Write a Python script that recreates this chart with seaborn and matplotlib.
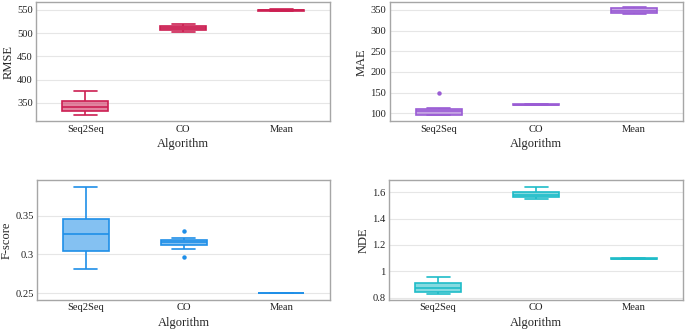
import pandas as pd
import numpy as np
import matplotlib
matplotlib.use("Agg")
import matplotlib.pyplot as plt
from matplotlib.colors import to_rgba
from matplotlib.ticker import FuncFormatter
import seaborn as sns

algorithms = ["Seq2Seq", "CO", "Mean"]

rmse_seq2seq = [323.6, 330.0, 333.0, 337.0, 340.7, 346.0, 353.6, 362.0, 375.0]
rmse_co = [503.0, 504.5, 506.4, 508.5, 511.0, 513.0, 515.7, 517.0, 519.0]
rmse_mean = [547.0, 547.5, 548.0, 548.5, 549.0, 549.5, 550.0, 550.5, 551.0]

mae_seq2seq = [94.4, 95.5, 96.0, 101.0, 104.0, 108.0, 110.5, 113.0, 149.0]
mae_co = [119.0, 119.5, 119.8, 120.0, 120.2, 120.5, 121.0, 121.5, 122.0]
mae_mean = [341.0, 342.0, 343.0, 345.5, 348.0, 351.0, 355.0, 355.5, 356.0]

fscore_seq2seq = [0.2816, 0.295, 0.3047, 0.315, 0.3264, 0.336, 0.3457, 0.365, 0.3873]
fscore_co = [0.2962, 0.3069, 0.3116, 0.3135, 0.3155, 0.317, 0.318, 0.3206, 0.3303]
fscore_mean = [0.25, 0.25, 0.25, 0.25, 0.25, 0.25, 0.25, 0.25, 0.25]

nde_seq2seq = [0.826, 0.833, 0.841, 0.856, 0.871, 0.893, 0.914, 0.935, 0.954]
nde_co = [1.549, 1.555, 1.562, 1.571, 1.58, 1.59, 1.6, 1.62, 1.643]
nde_mean = [1.09, 1.091, 1.092, 1.094, 1.095, 1.096, 1.098, 1.099, 1.10]

panels = [
    ("RMSE", [rmse_seq2seq, rmse_co, rmse_mean], "#cc1f52", (311, 566), [350, 400, 450, 500, 550]),
    ("MAE", [mae_seq2seq, mae_co, mae_mean], "#9a5cd4", (80.6, 368.5), [100, 150, 200, 250, 300, 350]),
    ("F-score", [fscore_seq2seq, fscore_co, fscore_mean], "#1f8fe8", (0.2413, 0.396), [0.25, 0.3, 0.35]),
    ("NDE", [nde_seq2seq, nde_co, nde_mean], "#1fbcc8", (0.782, 1.693), [0.8, 1, 1.2, 1.4, 1.6]),
]

# axes rectangles in figure fractions [left, bottom, width, height]
rects = [
    [0.053, 0.634, 0.429, 0.359],
    [0.569, 0.634, 0.428, 0.359],
    [0.054, 0.094, 0.428, 0.362],
    [0.568, 0.094, 0.429, 0.362],
]

# ── Plot ─────────────────────────────────────────────────────────────────────
sns.set_theme(style="white")
plt.rcParams["font.family"] = ["Liberation Serif", "DejaVu Serif"]
plt.rcParams["text.color"] = "#222222"

fig = plt.figure(figsize=(6.85, 3.31), dpi=100)

for (metric, groups, color, ylim, yticks), rect in zip(panels, rects):
    ax = fig.add_axes(rect)
    rows = []
    for alg, vals in zip(algorithms, groups):
        rows += [(alg, v) for v in vals]
    df = pd.DataFrame(rows, columns=["Algorithm", metric])

    sns.boxplot(data=df, x="Algorithm", y=metric, order=algorithms, ax=ax,
                color=color, linecolor=color, saturation=1, width=0.47,
                linewidth=1.2,
                boxprops=dict(facecolor=to_rgba(color, 0.55)),
                flierprops=dict(marker="o", markersize=2.2,
                                markerfacecolor=color, markeredgecolor=color))

    ax.set_ylim(*ylim)
    ax.set_xlim(-0.5, 2.5)
    ax.set_yticks(yticks)
    ax.yaxis.set_major_formatter(FuncFormatter(lambda v, p: f"{v:g}"))
    ax.grid(axis="y", color="#e6e6e6", linewidth=0.8)
    ax.set_axisbelow(True)
    for s in ax.spines.values():
        s.set_color("#a6a6a6")
        s.set_linewidth(1.0)
    ax.tick_params(axis="both", length=0, labelsize=7.6, pad=2.5, colors="#222222")
    ax.set_xlabel("Algorithm", fontsize=9, labelpad=3.5)
    ax.set_ylabel(metric, fontsize=9, labelpad=2)

fig.savefig("out.png", dpi=100)
